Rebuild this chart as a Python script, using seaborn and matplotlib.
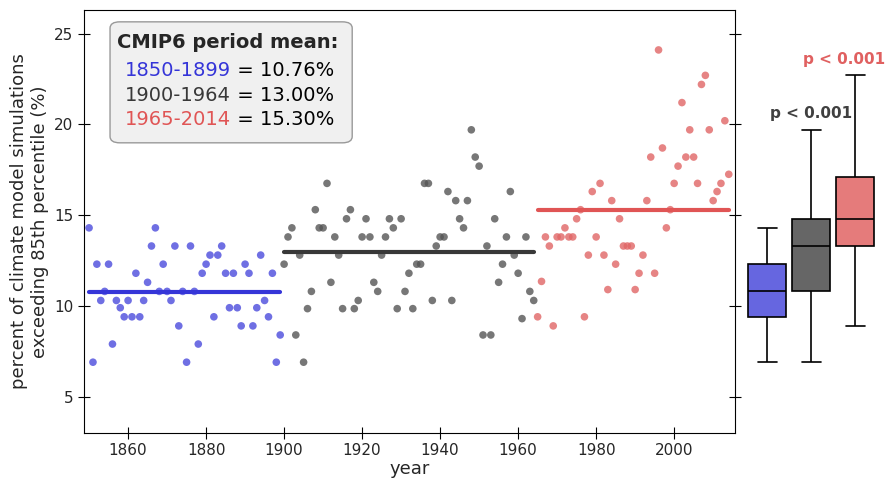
import matplotlib
matplotlib.use("Agg")
import matplotlib.pyplot as plt
from matplotlib.patches import FancyBboxPatch
import numpy as np
import pandas as pd
import seaborn as sns

vals_1850 = [14.3, 6.9, 12.3, 10.3, 10.8, 12.3, 7.9, 10.3, 9.9, 9.4,
             10.3, 9.4, 11.8, 9.4, 10.3, 11.3, 13.3, 14.3, 10.8, 12.3,
             10.8, 10.3, 13.3, 8.9, 10.8, 6.9, 13.3, 10.8, 7.9, 11.8,
             12.3, 12.8, 9.4, 12.8, 13.3, 11.8, 9.9, 11.8, 9.9, 8.9,
             12.3, 11.8, 8.9, 9.9, 12.8, 10.3, 9.4, 11.8, 6.9, 8.4]
vals_1900 = [12.3, 13.8, 14.3, 8.4, 12.8, 6.9, 9.85, 10.8, 15.3, 14.3,
             14.3, 16.75, 11.3, 13.8, 12.8, 9.85, 14.8, 15.3, 9.85, 10.3,
             13.8, 14.8, 13.8, 11.3, 10.8, 12.8, 13.8, 14.8, 14.3, 9.85,
             14.8, 10.8, 11.8, 9.85, 12.3, 12.3, 16.75, 16.75, 10.3, 13.3,
             13.8, 13.8, 16.3, 10.3, 15.8, 14.8, 14.3, 15.8, 19.7, 18.2,
             17.7, 8.4, 13.3, 8.4, 14.8, 11.3, 12.3, 13.8, 16.3, 12.8,
             11.8, 9.3, 13.8, 10.8, 10.3]
vals_1965 = [9.4, 11.35, 13.8, 13.3, 8.9, 13.8, 13.8, 14.3, 13.8, 13.8,
             14.8, 15.3, 9.4, 12.8, 16.3, 13.8, 16.75, 12.8, 10.9, 15.8,
             12.3, 14.8, 13.3, 13.3, 13.3, 10.9, 11.8, 12.8, 15.8, 18.2,
             11.8, 24.1, 18.7, 14.3, 15.3, 16.75, 17.7, 21.2, 18.2, 19.7,
             18.2, 16.75, 22.2, 22.7, 19.7, 15.8, 16.3, 16.75, 20.2, 17.25]

periods = ["1850-1899", "1900-1964", "1965-2014"]
starts = [1850, 1900, 1965]
series = [vals_1850, vals_1900, vals_1965]
dot_colors = ["#4b4bdc", "#555555", "#e06666"]
line_colors = ["#3535d8", "#383838", "#e05555"]
box_colors = ["#6666e0", "#666666", "#e57b7b"]
p_labels = ["", "p < 0.001", "p < 0.001"]
p_colors = ["", "#404040", "#e06060"]
p_y = [0, 20.6, 23.6]

rows = []
for name, s, v in zip(periods, starts, series):
    for i, val in enumerate(v):
        rows.append((name, s + i, val))
df = pd.DataFrame(rows, columns=["period", "year", "pct"])

sns.set_style("ticks")
plt.rcParams["font.family"] = ["DejaVu Sans"]

fig = plt.figure(figsize=(8.86, 4.78), dpi=100)
ax = fig.add_axes([84 / 886, 45 / 478, 651 / 886, 423 / 478])
bx = fig.add_axes([742 / 886, 45 / 478, 144 / 886, 423 / 478], sharey=ax)

sns.scatterplot(data=df, x="year", y="pct", hue="period", palette=dot_colors,
                s=30, alpha=0.8, linewidth=0, legend=False, ax=ax)
for name, s, v, c in zip(periods, starts, series, line_colors):
    m = np.mean(v)
    ax.plot([s, s + len(v) - 1], [m, m], color=c, lw=3)

ax.set_xlim(1848.7, 2015.6)
ax.set_ylim(3, 26.3)
ax.set_yticks([5, 10, 15, 20, 25])
ax.set_xticks([1860, 1880, 1900, 1920, 1940, 1960, 1980, 2000])
ax.tick_params(direction="inout", right=True, labelsize=11, length=8, color="black")
for sp in ax.spines.values():
    sp.set_color("black")
ax.set_xlabel("year", fontsize=13, labelpad=1)
ax.set_ylabel("percent of climate model simulations\nexceeding 85th percentile (%)",
              fontsize=13)

ax.add_patch(FancyBboxPatch((0.04, 0.686), 0.372, 0.286, transform=ax.transAxes,
                            boxstyle="round,pad=0,rounding_size=0.015",
                            fc="#f0f0f0", ec="#999999", zorder=5))
ax.text(0.051, 0.924, "CMIP6 period mean:", transform=ax.transAxes, fontsize=14,
        fontweight="bold", va="center", zorder=6)
for k, (name, v, c) in enumerate(zip(periods, series, line_colors)):
    y = 0.858 - k * 0.059
    t = ax.text(0.063, y, name, transform=ax.transAxes, fontsize=14, color=c,
                va="center", zorder=6)
    ax.annotate(f" = {np.mean(v):.2f}%", xy=(1, 0.5), xycoords=t, fontsize=14,
                va="center", color="black", zorder=6)

sns.boxplot(data=df, x="period", y="pct", hue="period", palette=box_colors,
            showfliers=False, width=0.86, ax=bx, legend=False, saturation=1,
            linecolor="black", linewidth=1.2)
bx.set_xlim(-0.57, 2.7)
bx.text(1, p_y[1], p_labels[1], ha="center", va="center", fontsize=11,
        fontweight="bold", color=p_colors[1])
bx.text(0.995, p_y[2], p_labels[2], ha="right", va="center", fontsize=11,
        fontweight="bold", color=p_colors[2], transform=bx.get_yaxis_transform())
bx.axis("off")

fig.savefig("out.png", dpi=100)
